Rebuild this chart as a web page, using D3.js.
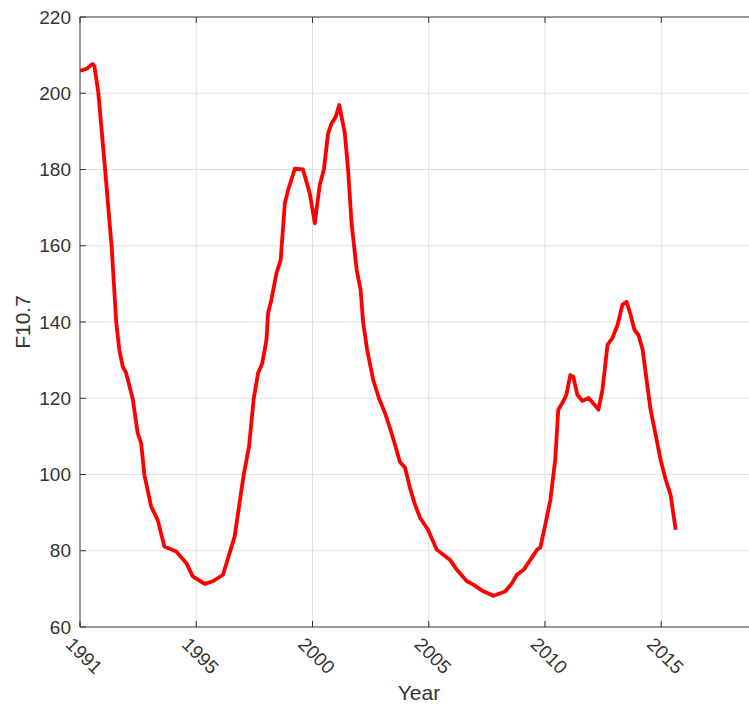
<!DOCTYPE html>
<html>
<head>
<meta charset="utf-8">
<script src="https://cdn.jsdelivr.net/npm/d3@7"></script>
<style>
  body { margin: 0; background: #fff; }
  text { font-family: "Liberation Sans", Arial, sans-serif; fill: #333333; }
</style>
</head>
<body>
<script>
// F10.7 solar flux, smoothed
var years = [1990.01, 1990.23, 1990.31, 1990.54, 1990.62, 1990.79, 1991.08, 1991.36, 1991.56, 1991.69,
  1991.84, 1991.98, 1992.27, 1992.48, 1992.63, 1992.77, 1993.06, 1993.34, 1993.63, 1994.14,
  1994.57, 1994.85, 1995.36, 1995.72, 1996.15, 1996.65, 1997.04, 1997.27, 1997.47, 1997.66,
  1997.84, 1998.02, 1998.09, 1998.23, 1998.45, 1998.63, 1998.81, 1998.95, 1999.24, 1999.59,
  1999.88, 2000.10, 2000.31, 2000.49, 2000.67, 2000.82, 2001.00, 2001.15, 2001.39, 2001.53,
  2001.68, 2001.90, 2002.07, 2002.18, 2002.35, 2002.61, 2002.87, 2003.12, 2003.33, 2003.55,
  2003.76, 2003.98, 2004.19, 2004.41, 2004.63, 2004.97, 2005.34, 2005.92, 2006.21, 2006.64,
  2006.92, 2007.28, 2007.78, 2008.29, 2008.58, 2008.79, 2009.08, 2009.37, 2009.66, 2009.80,
  2010.01, 2010.23, 2010.44, 2010.57, 2010.75, 2010.92, 2011.09, 2011.22, 2011.39, 2011.61,
  2011.87, 2012.13, 2012.30, 2012.47, 2012.69, 2012.90, 2013.12, 2013.33, 2013.51, 2013.68,
  2013.85, 2014.02, 2014.20, 2014.37, 2014.54, 2014.76, 2014.97, 2015.19, 2015.40, 2015.62];

var f107 = [205.9, 206.3, 206.5, 207.7, 207.1, 200.0, 180.0, 159.8, 139.8, 132.7,
  128.3, 126.7, 119.8, 110.9, 108.2, 99.9, 91.6, 88.1, 81.1, 79.8,
  76.8, 73.3, 71.3, 72.0, 73.7, 83.7, 99.9, 107.3, 119.8, 126.6,
  129.2, 135.3, 142.3, 145.8, 152.8, 156.3, 171.1, 174.6, 180.2, 180.0,
  173.8, 165.9, 175.9, 180.0, 189.5, 192.1, 193.8, 196.9, 189.5, 180.0,
  165.9, 153.7, 148.4, 139.8, 132.7, 124.8, 119.8, 116.1, 112.2, 107.8,
  103.3, 101.8, 96.5, 92.1, 88.6, 85.5, 80.3, 77.6, 75.0, 72.0,
  71.1, 69.6, 68.2, 69.3, 71.5, 73.7, 75.0, 77.6, 80.3, 80.8,
  86.8, 93.3, 103.9, 117.0, 118.8, 120.9, 126.1, 125.6, 120.9, 119.3,
  120.1, 118.3, 117.0, 122.2, 134.0, 135.8, 139.2, 144.5, 145.3, 141.9,
  137.9, 136.6, 132.7, 124.8, 117.0, 110.4, 103.9, 98.7, 94.7, 85.5];

var xTicks = [1990, 1995, 2000, 2005, 2010, 2015];
var xTickLabels = ["1991", "1995", "2000", "2005", "2010", "2015"];
var yTicks = [60, 80, 100, 120, 140, 160, 180, 200, 220];

var W = 749, H = 708;
var margin = { top: 17, left: 80, bottom: 81 };
var plotH = H - margin.top - margin.bottom;

var svg = d3.select("body").append("svg")
  .attr("width", W).attr("height", H);

var x = d3.scaleLinear().domain([1990, 2019]).range([margin.left, margin.left + 674.25]);
var y = d3.scaleLinear().domain([60, 220]).range([margin.top + plotH, margin.top]);

var xR = x.range()[1];

// grid
svg.append("g").selectAll("line.gy").data(yTicks.slice(1, -1)).enter()
  .append("line")
  .attr("x1", margin.left).attr("x2", xR)
  .attr("y1", d => y(d)).attr("y2", d => y(d))
  .attr("stroke", "#e1e1e1").attr("stroke-width", 1);

svg.append("g").selectAll("line.gx").data(xTicks.slice(1)).enter()
  .append("line")
  .attr("x1", d => x(d)).attr("x2", d => x(d))
  .attr("y1", y(60)).attr("y2", y(220))
  .attr("stroke", "#e1e1e1").attr("stroke-width", 1);

// data line
var line = d3.line().x((d, i) => x(years[i])).y(d => y(d));
svg.append("path")
  .datum(f107)
  .attr("d", line)
  .attr("fill", "none")
  .attr("stroke", "#ff0000")
  .attr("stroke-width", 3.8)
  .attr("stroke-linejoin", "round");

// axes box
var axisCol = "#333333";
svg.append("line").attr("x1", margin.left).attr("x2", margin.left)
  .attr("y1", y(60)).attr("y2", y(220)).attr("stroke", axisCol).attr("stroke-width", 1);
svg.append("line").attr("x1", margin.left).attr("x2", xR)
  .attr("y1", y(60)).attr("y2", y(60)).attr("stroke", axisCol).attr("stroke-width", 1);
svg.append("line").attr("x1", margin.left).attr("x2", xR)
  .attr("y1", y(220)).attr("y2", y(220)).attr("stroke", axisCol).attr("stroke-width", 1);

// ticks (inward)
svg.append("g").selectAll("line").data(yTicks).enter().append("line")
  .attr("x1", margin.left).attr("x2", margin.left + 6)
  .attr("y1", d => y(d)).attr("y2", d => y(d))
  .attr("stroke", axisCol);
svg.append("g").selectAll("line").data(xTicks).enter().append("line")
  .attr("x1", d => x(d)).attr("x2", d => x(d))
  .attr("y1", y(60)).attr("y2", y(60) - 6)
  .attr("stroke", axisCol);
svg.append("g").selectAll("line").data(xTicks).enter().append("line")
  .attr("x1", d => x(d)).attr("x2", d => x(d))
  .attr("y1", y(220)).attr("y2", y(220) + 6)
  .attr("stroke", axisCol);

// tick labels
svg.append("g").selectAll("text").data(yTicks).enter().append("text")
  .attr("x", margin.left - 9)
  .attr("y", d => y(d))
  .attr("dy", "0.35em")
  .attr("text-anchor", "end")
  .attr("font-size", 19)
  .text(d => d);

svg.append("g").selectAll("text").data(xTicks).enter().append("text")
  .attr("transform", d => "translate(" + [x(d) - 6, y(60) + 9] + ") rotate(45)")
  .attr("dy", "0.7em")
  .attr("text-anchor", "start")
  .attr("font-size", 19)
  .text((d, i) => xTickLabels[i]);

// axis titles
svg.append("text")
  .attr("x", 419).attr("y", 700)
  .attr("text-anchor", "middle")
  .attr("font-size", 21)
  .text("Year");

svg.append("text")
  .attr("transform", "translate(30,322) rotate(-90)")
  .attr("text-anchor", "middle")
  .attr("font-size", 21)
  .text("F10.7");
</script>
</body>
</html>
